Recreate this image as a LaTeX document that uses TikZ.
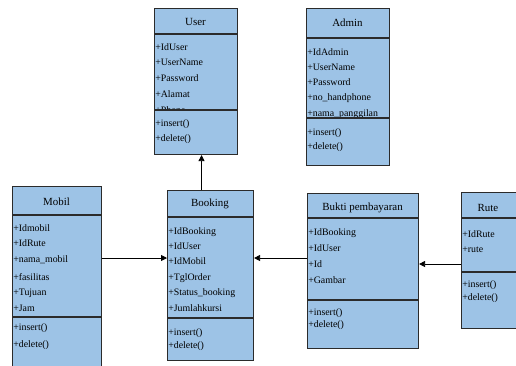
\documentclass[tikz,border=0pt]{standalone}
\usepackage{fontspec}
\setmainfont{Liberation Serif}
\newfontfamily\clsfont{Liberation Serif}
\usetikzlibrary{arrows.meta}
\definecolor{clsfill}{HTML}{9DC3E6}
\definecolor{clsline}{HTML}{2B2B2B}
\tikzset{
  cls/.style={draw=clsline, fill=clsfill, line width=0.8pt, inner sep=0pt, anchor=north west},
  ttl/.style={inner sep=0pt, font=\clsfont\fontsize{8.2}{9}\selectfont},
  att/.style={inner sep=0pt, anchor=west, font=\clsfont\fontsize{7.4}{8}\selectfont},
  sep/.style={draw=clsline, line width=0.8pt},
  arr/.style={draw=black, line width=0.6pt, -{Triangle[length=4.5pt,width=4.5pt]}}
}
\begin{document}
\begin{tikzpicture}[x=0.75pt,y=-0.75pt]
\useasboundingbox (0,0) rectangle (516,365);
% ---------- User ----------
\node[cls, minimum width=83*0.75pt, minimum height=146*0.75pt] (user) at (154,8) {};
\node[ttl] (userT) at (195.5,22) {User};
\begin{scope}
\clip (154,34) rectangle (237,110);
\node[att] (u1) at (155,47) {+IdUser};
\node[att] (u2) at (155,62) {+UserName};
\node[att] (u3) at (155,78) {+Password};
\node[att] (u4) at (155,94) {+Alamat};
\node[att] (u5) at (155,110) {+Phone};
\end{scope}
\node[att] (u6) at (155,124) {+insert()};
\node[att] (u7) at (155,139) {+delete()};
\draw[sep] (154,34) -- (237,34);
\draw[sep] (154,110) -- (237,110);
% ---------- Admin ----------
\node[cls, minimum width=83*0.75pt, minimum height=157*0.75pt] (admin) at (306,8) {};
\node[ttl] (adminT) at (347.5,23) {Admin};
\node[att] (a1) at (307,52) {+IdAdmin};
\node[att] (a2) at (307,67) {+UserName};
\node[att] (a3) at (307,82) {+Password};
\node[att] (a4) at (307,98) {+no\_handphone};
\node[att] (a5) at (307,114) {+nama\_panggilan};
\node[att] (a6) at (307,133) {+insert()};
\node[att] (a7) at (307,147) {+delete()};
\draw[sep] (306,38) -- (389,38);
\draw[sep] (306,118) -- (389,118);
% ---------- Mobil ----------
\node[cls, minimum width=89*0.75pt, minimum height=185*0.75pt] (mobil) at (12,186) {};
\node[ttl] (mobilT) at (56.5,202) {Mobil};
\node[att] (m1) at (13,228) {+Idmobil};
\node[att] (m2) at (13,243) {+IdRute};
\node[att] (m3) at (13,260) {+nama\_mobil};
\node[att] (m4) at (13,277) {+fasilitas};
\node[att] (m5) at (13,293) {+Tujuan};
\node[att] (m6) at (13,308) {+Jam};
\node[att] (m7) at (13,328) {+insert()};
\node[att] (m8) at (13,345) {+delete()};
\draw[sep] (12,215) -- (101,215);
\draw[sep] (12,317) -- (101,317);
% ---------- Booking ----------
\node[cls, minimum width=86*0.75pt, minimum height=170*0.75pt] (booking) at (167,190) {};
\node[ttl] (bookingT) at (210,204) {Booking};
\node[att] (b1) at (168,232) {+IdBooking};
\node[att] (b2) at (168,246) {+IdUser};
\node[att] (b3) at (168,261) {+IdMobil};
\node[att] (b4) at (168,278) {+TglOrder};
\node[att] (b5) at (168,293) {+Status\_booking};
\node[att] (b6) at (168,308) {+Jumlahkursi};
\node[att] (b7) at (168,333) {+insert()};
\node[att] (b8) at (168,346) {+delete()};
\draw[sep] (167,217) -- (253,217);
\draw[sep] (167,318) -- (253,318);
% ---------- Bukti pembayaran ----------
\node[cls, minimum width=111*0.75pt, minimum height=155*0.75pt] (bukti) at (307,193) {};
\node[ttl] (buktiT) at (362.5,208) {Bukti pembayaran};
\node[att] (k1) at (308,233) {+IdBooking};
\node[att] (k2) at (308,248) {+IdUser};
\node[att] (k3) at (308,264) {+Id};
\node[att] (k4) at (308,280) {+Gambar};
\node[att] (k5) at (308,313) {+insert()};
\node[att] (k6) at (308,325) {+delete()};
\draw[sep] (307,218) -- (418,218);
\draw[sep] (307,300) -- (418,300);
% ---------- Rute ----------
\node[cls, minimum width=56*0.75pt, minimum height=136*0.75pt] (rute) at (461,192) {};
\node[ttl] (ruteT) at (488,208) {Rute};
\node[att] (r1) at (462,234) {+IdRute};
\node[att] (r2) at (462,250) {+rute};
\node[att] (r3) at (462,285) {+insert()};
\node[att] (r4) at (462,298) {+delete()};
\draw[sep] (461,218) -- (517,218);
\draw[sep] (461,272) -- (517,272);
% ---------- Connectors ----------
\draw[arr] ([xshift=-6.75pt]booking.north) -- ([xshift=-6.75pt]booking.north |- user.south);
\draw[arr] (mobil.east |- 0,258) -- (booking.west |- 0,258);
\draw[arr] (bukti.west |- 0,258) -- (booking.east |- 0,258);
\draw[arr] (rute.west |- 0,264) -- (bukti.east |- 0,264);
\end{tikzpicture}
\end{document}
